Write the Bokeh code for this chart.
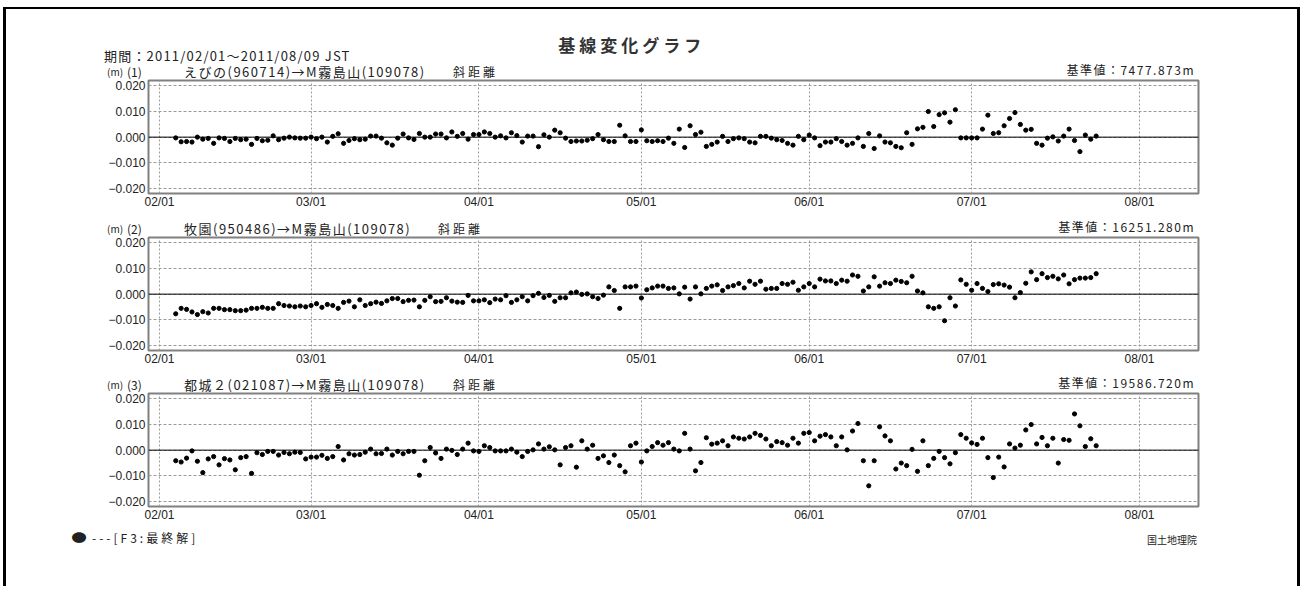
import pandas as pd
from bokeh.plotting import figure
from bokeh.layouts import column
from bokeh.models import Range1d, FixedTicker, DatetimeTickFormatter, Span, ColumnDataSource, Div
from bokeh.embed import file_html
from bokeh.resources import INLINE

FONT = "Noto Sans CJK JP"
NUM_FONT = "Liberation Sans"
TXT = "#222222"

# ---------------- data ----------------
first_date = "2011-02-04"          # daily solutions from this date
origin_date = "2011-02-01"
month_ticks = ["2011-02-01", "2011-03-01", "2011-04-01", "2011-05-01",
               "2011-06-01", "2011-07-01", "2011-08-01"]
y_ticks = [-0.02, -0.01, 0.0, 0.01, 0.02]
y_tick_labels = ["−0.020", "−0.010", "0.000", "0.010", "0.020"]

title_text = "基線変化グラフ"
period_text = "期間：2011/02/01～2011/08/09 JST"
unit_text = "(m)"
kind_text = "斜距離"
legend_mark = "●"
legend_text = "---[F3:最終解]"
credit_text = "国土地理院"

baseline_nums = ["(1)", "(2)", "(3)"]
baseline_names = ["えびの(960714)→M霧島山(109078)",
                  "牧園(950486)→M霧島山(109078)",
                  "都城２(021087)→M霧島山(109078)"]
reference_values = ["基準値：7477.873m", "基準値：16251.280m", "基準値：19586.720m"]

series1 = [
    -0.0003, -0.0018, -0.0017, -0.0019, 0.0000, -0.0008, -0.0005, -0.0024, -0.0003, -0.0005,
    -0.0017, -0.0005, -0.0010, -0.0008, -0.0028, -0.0005, -0.0014, -0.0012, 0.0005, -0.0010,
    -0.0004, 0.0000, -0.0003, -0.0004, -0.0004, 0.0000, -0.0006, 0.0000, -0.0019, 0.0003,
    0.0013, -0.0024, -0.0013, -0.0006, -0.0010, -0.0008, 0.0004, 0.0004, -0.0004, -0.0022,
    -0.0031, -0.0004, 0.0012, -0.0003, -0.0009, 0.0014, 0.0000, 0.0000, 0.0012, 0.0012,
    -0.0003, 0.0020, 0.0003, 0.0014, -0.0008, 0.0010, 0.0010, 0.0020, 0.0014, 0.0000,
    0.0005, -0.0003, 0.0017, 0.0006, -0.0019, 0.0004, 0.0004, -0.0037, 0.0009, 0.0000,
    0.0027, 0.0017, -0.0004, -0.0017, -0.0015, -0.0015, -0.0012, -0.0006, 0.0010, -0.0010,
    -0.0017, -0.0017, 0.0046, 0.0005, -0.0017, -0.0017, 0.0028, -0.0014, -0.0017, -0.0014,
    -0.0017, -0.0004, -0.0024, 0.0031, -0.0040, 0.0044, 0.0010, 0.0019, -0.0036, -0.0028,
    -0.0019, 0.0003, -0.0017, -0.0006, -0.0003, -0.0006, -0.0019, -0.0022, 0.0003, 0.0003,
    -0.0004, -0.0010, -0.0013, -0.0024, -0.0031, 0.0003, -0.0010, 0.0008, -0.0003, -0.0033,
    -0.0019, -0.0019, -0.0006, -0.0017, -0.0031, -0.0024, -0.0003, -0.0036, 0.0014, -0.0044,
    0.0005, -0.0019, -0.0022, -0.0036, -0.0041, 0.0017, -0.0028, 0.0032, 0.0038, 0.0099,
    0.0041, 0.0087, 0.0094, 0.0058, 0.0106, -0.0003, -0.0003, -0.0003, -0.0003, 0.0031,
    0.0085, 0.0014, 0.0017, 0.0044, 0.0072, 0.0095, 0.0049, 0.0027, 0.0030, -0.0024,
    -0.0031, -0.0004, 0.0001, -0.0015, 0.0004, 0.0031, -0.0013, -0.0056, 0.0008, -0.0008,
    0.0004,
]

series2 = [
    -0.0076, -0.0055, -0.0059, -0.0069, -0.0079, -0.0068, -0.0073, -0.0055, -0.0055, -0.0060,
    -0.0060, -0.0064, -0.0064, -0.0062, -0.0055, -0.0055, -0.0051, -0.0055, -0.0055, -0.0037,
    -0.0044, -0.0046, -0.0049, -0.0046, -0.0049, -0.0044, -0.0037, -0.0051, -0.0040, -0.0044,
    -0.0055, -0.0032, -0.0027, -0.0049, -0.0022, -0.0044, -0.0037, -0.0031, -0.0036, -0.0026,
    -0.0017, -0.0017, -0.0029, -0.0024, -0.0023, -0.0049, -0.0024, -0.0010, -0.0029, -0.0028,
    -0.0014, -0.0027, -0.0031, -0.0032, -0.0005, -0.0026, -0.0026, -0.0022, -0.0033, -0.0019,
    -0.0022, -0.0006, -0.0032, -0.0022, -0.0010, -0.0026, -0.0006, 0.0003, -0.0013, -0.0005,
    -0.0028, -0.0014, -0.0014, 0.0005, 0.0008, -0.0001, 0.0001, -0.0010, -0.0017, -0.0004,
    0.0028, 0.0014, -0.0055, 0.0028, 0.0028, 0.0031, -0.0015, 0.0017, 0.0024, 0.0031,
    0.0031, 0.0022, 0.0024, 0.0001, 0.0027, -0.0019, 0.0028, 0.0001, 0.0022, 0.0031,
    0.0036, 0.0014, 0.0028, 0.0033, 0.0041, 0.0024, 0.0050, 0.0038, 0.0050, 0.0019,
    0.0022, 0.0022, 0.0041, 0.0038, 0.0046, 0.0015, 0.0028, 0.0041, 0.0028, 0.0058,
    0.0051, 0.0051, 0.0041, 0.0054, 0.0050, 0.0074, 0.0069, 0.0012, 0.0028, 0.0067,
    0.0031, 0.0044, 0.0041, 0.0054, 0.0049, 0.0044, 0.0069, 0.0012, 0.0005, -0.0049,
    -0.0055, -0.0049, -0.0103, -0.0014, -0.0046, 0.0055, 0.0038, 0.0015, 0.0041, 0.0022,
    0.0010, 0.0037, 0.0040, 0.0035, 0.0027, -0.0014, 0.0006, 0.0042, 0.0086, 0.0056,
    0.0079, 0.0064, 0.0069, 0.0059, 0.0074, 0.0040, 0.0056, 0.0062, 0.0062, 0.0064,
    0.0079,
]

series3 = [
    -0.0041, -0.0046, -0.0031, -0.0003, -0.0043, -0.0087, -0.0034, -0.0025, -0.0057, -0.0033,
    -0.0038, -0.0076, -0.0029, -0.0025, -0.0090, -0.0010, -0.0017, -0.0005, -0.0005, -0.0019,
    -0.0009, -0.0014, -0.0008, -0.0009, -0.0034, -0.0027, -0.0027, -0.0020, -0.0032, -0.0025,
    0.0014, -0.0038, -0.0014, -0.0019, -0.0017, -0.0008, 0.0004, -0.0014, -0.0013, 0.0004,
    -0.0019, -0.0005, -0.0014, -0.0005, -0.0005, -0.0097, -0.0041, 0.0010, -0.0011, -0.0032,
    0.0004, -0.0001, -0.0017, 0.0004, 0.0027, -0.0003, -0.0005, 0.0017, 0.0010, -0.0003,
    -0.0003, -0.0003, 0.0004, -0.0008, -0.0025, -0.0005, 0.0001, 0.0024, 0.0004, 0.0013,
    0.0001, -0.0057, 0.0010, 0.0017, -0.0066, 0.0036, 0.0004, 0.0019, -0.0032, -0.0022,
    -0.0048, -0.0019, -0.0060, -0.0084, 0.0017, 0.0027, -0.0046, -0.0003, 0.0014, 0.0029,
    0.0019, 0.0029, 0.0004, -0.0003, 0.0065, 0.0004, -0.0080, -0.0048, 0.0048, 0.0023,
    0.0027, 0.0036, 0.0017, 0.0051, 0.0046, 0.0043, 0.0051, 0.0065, 0.0057, 0.0043,
    0.0017, 0.0033, 0.0029, 0.0019, 0.0046, 0.0027, 0.0065, 0.0068, 0.0036, 0.0054,
    0.0060, 0.0051, 0.0017, 0.0051, 0.0001, 0.0074, 0.0103, -0.0041, -0.0138, -0.0041,
    0.0090, 0.0055, 0.0036, -0.0073, -0.0050, -0.0060, 0.0003, -0.0082, 0.0036, -0.0060,
    -0.0032, -0.0005, -0.0029, -0.0053, -0.0010, 0.0060, 0.0046, 0.0028, 0.0022, 0.0046,
    -0.0029, -0.0106, -0.0027, -0.0065, 0.0024, 0.0008, 0.0019, 0.0078, 0.0099, 0.0024,
    0.0049, 0.0017, 0.0046, -0.0050, 0.0041, 0.0038, 0.0140, 0.0094, 0.0014, 0.0044,
    0.0017,
]
all_series = [series1, series2, series3]

# ---------------- layout constants ----------------
W = 1304
LEFT, RIGHT = 148, 106
FRAME_H = 113
fig_borders = [(3, 22), (3, 22), (3, 20)]   # (top, bottom)
div_heights = [77, 19, 18, 60]
header_y = [71.5, 13.5, 12.8]   # centre of header row inside the div above each panel
saha_x = [453, 438, 453]

org = pd.Timestamp(origin_date)
x_start = org - pd.Timedelta(hours=2.03 * 24)
x_end = org + pd.Timedelta(hours=191.9 * 24)
tick_ms = [pd.Timestamp(t).value // 10**6 for t in month_ticks]


def span(x, y, text, size, align="left", bold=False, color=TXT, ls=0.0, extra=""):
    if align == "left":
        pos = f"left:{x}px;"
        tr = ""
    elif align == "right":
        pos = f"right:{W - x}px;"
        tr = ""
    else:
        pos = f"left:{x}px;"
        tr = "translateX(-50%)"
    if extra:
        tr = (tr + " " + extra).strip()
    trans = f"transform:{tr};" if tr else ""
    lh = size - 2
    top = y - lh / 2.0
    weight = "bold" if bold else "normal"
    return (f'<span style="position:absolute;{pos}top:{top:.1f}px;font-size:{size}px;'
            f'line-height:{lh}px;white-space:nowrap;font-family:\'{FONT}\';'
            f'letter-spacing:{ls}px;{trans}'
            f'color:{color};font-weight:{weight};">{text}</span>')


def make_div(height, spans):
    html = (f'<div style="position:relative;width:{W}px;height:{height}px;overflow:visible;">'
            + "".join(spans) + "</div>")
    return Div(text=html, width=W, height=height, margin=0,
               styles={"overflow": "visible"})


def header_spans(i, y):
    return [
        span(107, y, unit_text, 10),
        span(127, y, baseline_nums[i], 12),
        span(184, y, baseline_names[i], 13, ls=1.5),
        span(saha_x[i], y, kind_text, 12, ls=3),
        span(1195, y - 1.5, reference_values[i], 12, align="right", ls=1.5),
    ]


def make_panel(i, vals):
    bt, bb = fig_borders[i]
    H = bt + FRAME_H + bb
    dates = pd.date_range(first_date, periods=len(vals), freq="D")
    src = ColumnDataSource(dict(date=dates, val=vals))
    p = figure(width=W, height=H, x_axis_type="datetime",
               x_range=Range1d(x_start, x_end),
               y_range=Range1d(-0.0218, 0.0219),
               output_backend="svg", toolbar_location=None, margin=0,
               min_border_left=LEFT, min_border_right=RIGHT,
               min_border_top=bt, min_border_bottom=bb)
    p.border_fill_color = None
    p.background_fill_color = "white"
    p.outline_line_color = "#808080"
    p.outline_line_width = 2

    p.yaxis.ticker = FixedTicker(ticks=y_ticks)
    p.yaxis.major_label_overrides = {t: s for t, s in zip(y_ticks, y_tick_labels)}
    p.xaxis.ticker = FixedTicker(ticks=tick_ms)
    p.xaxis.formatter = DatetimeTickFormatter(
        days="%m/%d", months="%m/%d", years="%m/%d", hours="%m/%d",
        hourmin="%m/%d", minutes="%m/%d", minsec="%m/%d", seconds="%m/%d",
        milliseconds="%m/%d", microseconds="%m/%d")
    for ax in (p.xaxis, p.yaxis):
        ax.axis_line_color = None
        ax.major_tick_line_color = None
        ax.minor_tick_line_color = None
        ax.major_tick_out = 0
        ax.major_tick_in = 0
        ax.minor_tick_out = 0
        ax.major_label_text_font = NUM_FONT
        ax.major_label_text_font_size = "12px"
        ax.major_label_text_color = TXT
    p.yaxis.major_label_standoff = 3
    p.xaxis.major_label_standoff = 1

    p.ygrid.grid_line_color = "#9a9a9a"
    p.ygrid.grid_line_dash = "3 2"
    p.xgrid.grid_line_color = "#9a9a9a"
    p.xgrid.grid_line_dash = "2 2"
    p.xgrid.ticker = FixedTicker(ticks=tick_ms)
    p.ygrid.ticker = FixedTicker(ticks=y_ticks)

    p.add_layout(Span(location=0, dimension="width", line_color="black", line_width=1))
    p.scatter("date", "val", source=src, size=4.2, marker="circle",
              fill_color="black", line_color="black")
    return p


top_div = make_div(div_heights[0], [
    span(631.7, 44, title_text, 17, align="center", bold=True, color="#333333", ls=4),
    span(104, 55, period_text, 13, ls=1.2),
] + header_spans(0, header_y[0]))
div2 = make_div(div_heights[1], header_spans(1, header_y[1]))
div3 = make_div(div_heights[2], header_spans(2, header_y[2]))
foot_div = make_div(div_heights[3], [
    span(79, 12, legend_mark, 12, align="center", extra="scaleX(1.3)"),
    span(92, 12, legend_text, 12, ls=3),
    span(1197, 14, credit_text, 10, align="right"),
])

figs = [make_panel(i, v) for i, v in enumerate(all_series)]

frame_css = ("inset 3px 0 0 #fff, inset -4px 0 0 #fff, inset 0 7px 0 #fff, "
             "inset 6px 0 0 #000, inset -7px 0 0 #000, inset 0 9px 0 #000")
layout = column(top_div, figs[0], div2, figs[1], div3, figs[2], foot_div,
                spacing=0, margin=0, styles={"box-shadow": frame_css})

with open("out.html", "w", encoding="utf-8") as f:
    f.write(file_html(layout, INLINE))
